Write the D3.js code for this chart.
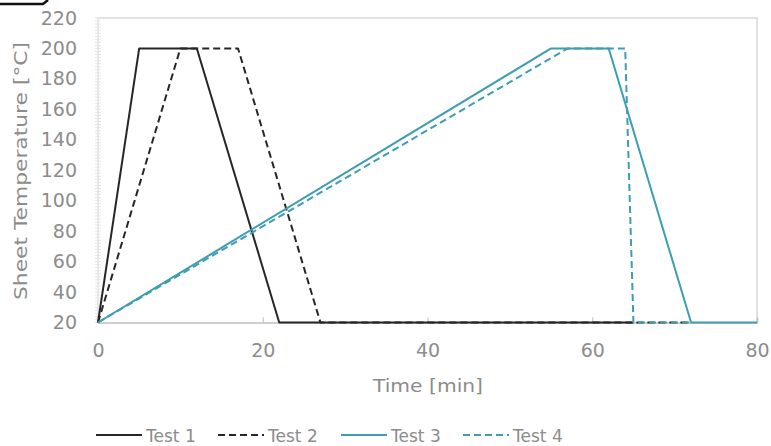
<!DOCTYPE html>
<html><head><meta charset="utf-8">
<script src="https://cdn.jsdelivr.net/npm/d3@7"></script>
<style>body{margin:0;background:#fff}svg{display:block}</style>
</head><body>
<svg id="c" width="771" height="446"></svg>
<script>
const seriesNames = ["Test 1","Test 2","Test 3","Test 4"];
const test1 = [[0,20],[5,200],[12,200],[22,20],[65,20]];
const test2 = [[0,20],[10,200],[17,200],[27,20],[72,20]];
const test3 = [[0,20],[55,200],[62,200],[72,20],[80,20]];
const test4 = [[0,20],[57,200],[64,200],[65,20],[72,20]];
const xTicks = [0,20,40,60,80];
const yTicks = [20,40,60,80,100,120,140,160,180,200,220];
const colors = ["#262626","#262626","#3d9db2","#3d9db2"];
const dashes = [null,"7,4",null,"7,4"];
const data = [test1,test2,test3,test4];

const svg = d3.select("#c");
const font = "'DejaVu Sans', sans-serif";
const grey = "#8c8c8c";
const x = d3.scaleLinear().domain([0,80]).range([98,757]);
const y = d3.scaleLinear().domain([20,220]).range([322.5,18]);

// fragment of neighbouring figure at top-left
svg.append("path").attr("d","M0,4H43L48,0").attr("fill","none").attr("stroke","#111").attr("stroke-width",2.5);

// plot frame
svg.append("path").attr("d",`M${x(0)},${y(220)}H${x(80)}V${y(20)}`).attr("fill","none").attr("stroke","#d9d9d9").attr("stroke-width",1.5);

// left axis line with minor ticks
svg.append("line").attr("x1",x(0)).attr("x2",x(0)).attr("y1",y(220)).attr("y2",y(20)).attr("stroke","#e0e0e0").attr("stroke-width",1.5);
const minor = d3.range(20,221,2);
svg.append("g").selectAll("line").data(minor).join("line")
  .attr("x1",x(0)-3).attr("x2",x(0)+3).attr("y1",d=>y(d)).attr("y2",d=>y(d))
  .attr("stroke","#e6e6e6").attr("stroke-width",1);

// y axis labels
const yAxis = d3.axisLeft(y).tickValues(yTicks).tickSize(0).tickPadding(21);
const gy = svg.append("g").attr("transform",`translate(${x(0)},0)`).call(yAxis);
gy.select(".domain").remove();
gy.selectAll("text").attr("font-family",font).attr("font-size",19).attr("fill",grey);

// x axis
const xAxis = d3.axisBottom(x).tickValues(xTicks).tickSize(-5).tickPadding(21);
const gx = svg.append("g").attr("transform",`translate(0,${y(20)})`).call(xAxis);
gx.select(".domain").attr("stroke","#bfbfbf").attr("stroke-width",1.5);
gx.selectAll(".tick line").attr("stroke","#bfbfbf");
gx.selectAll("text").attr("font-family",font).attr("font-size",19).attr("fill",grey);

// axis titles
svg.append("text").attr("transform",`translate(27,171) rotate(-90)`)
  .attr("text-anchor","middle").attr("font-family",font).attr("font-size",18).attr("fill",grey)
  .attr("textLength",258).attr("lengthAdjust","spacingAndGlyphs")
  .text("Sheet Temperature [°C]");
svg.append("text").attr("x",428).attr("y",392).attr("text-anchor","middle")
  .attr("font-family",font).attr("font-size",18).attr("fill",grey)
  .attr("textLength",110).attr("lengthAdjust","spacingAndGlyphs").text("Time [min]");

// lines
const line = d3.line().x(d=>x(d[0])).y(d=>y(d[1]));
data.forEach((s,i)=>{
  svg.append("path").datum(s).attr("d",line).attr("fill","none")
    .attr("stroke",colors[i]).attr("stroke-width",2)
    .attr("stroke-dasharray",dashes[i]).attr("stroke-linejoin","round");
});

// legend
const legX = [96,218,341,463];
const lg = svg.append("g");
seriesNames.forEach((n,i)=>{
  lg.append("line").attr("x1",legX[i]).attr("x2",legX[i]+46).attr("y1",435).attr("y2",435)
    .attr("stroke",colors[i]).attr("stroke-width",2).attr("stroke-dasharray",dashes[i]);
  lg.append("text").attr("x",legX[i]+50).attr("y",442).attr("font-family",font)
    .attr("font-size",17).attr("fill",grey).text(n);
});
</script>
</body></html>
